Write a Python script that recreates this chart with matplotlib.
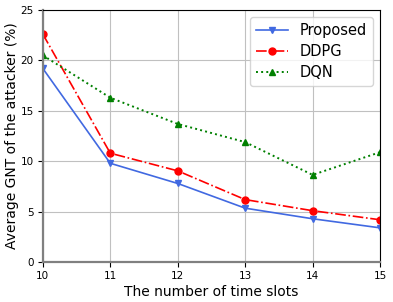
import matplotlib
matplotlib.use("Agg")
import matplotlib.pyplot as plt

slots = [10, 11, 12, 13, 14, 15]
proposed = [19.2, 9.8, 7.8, 5.35, 4.3, 3.4]
ddpg = [22.6, 10.8, 9.05, 6.2, 5.1, 4.2]
dqn = [20.5, 16.3, 13.7, 11.9, 8.65, 10.9]

fig = plt.figure(figsize=(3.93, 3.02), dpi=100)
ax = fig.add_axes([0.109, 0.132, 0.858, 0.835])

ax.plot(slots, proposed, color='#4169E1', linestyle='-', marker='v', markersize=5, linewidth=1.2, label='Proposed')
ax.plot(slots, ddpg, color='red', linestyle='-.', marker='o', markersize=5, linewidth=1.2, label='DDPG')
ax.plot(slots, dqn, color='green', linestyle=':', marker='^', markersize=5, linewidth=1.4, label='DQN')

ax.set_xlim(10, 15)
ax.set_ylim(0, 25)
ax.set_xticks(slots)
ax.set_yticks([0, 5, 10, 15, 20, 25])
ax.grid(True, color='#c0c0c0', linewidth=0.8)
ax.tick_params(labelsize=7.5, pad=3)
for s in ['left', 'bottom']:
    ax.spines[s].set_color('#808080')
    ax.spines[s].set_linewidth(1.6)
ax.set_xlabel('The number of time slots', fontsize=10, labelpad=3)
ax.set_ylabel('Average GNT of the attacker (%)', fontsize=10)
ax.yaxis.set_label_coords(-0.07, 0.5)
ax.legend(loc='upper right', fontsize=10.5, handlelength=2.2, labelspacing=0.4)

fig.savefig('out.png', dpi=100)
